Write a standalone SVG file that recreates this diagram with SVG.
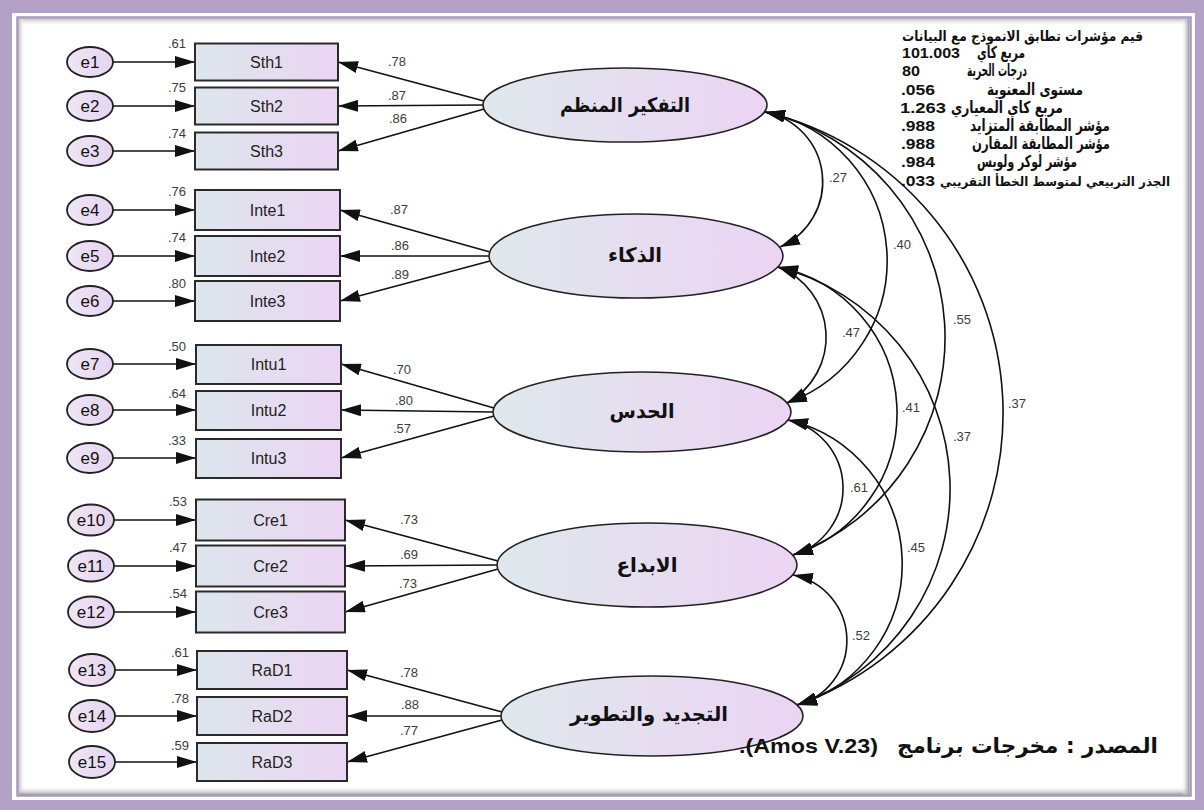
<svg xmlns="http://www.w3.org/2000/svg" width="1204" height="810" viewBox="0 0 1204 810">
  <defs>
    <linearGradient id="fillObs" x1="0" y1="0" x2="1" y2="0">
      <stop offset="0" stop-color="#dde6ec"/>
      <stop offset="1" stop-color="#ebd5f3"/>
    </linearGradient>
    <linearGradient id="fillLat" x1="0" y1="0" x2="1" y2="0">
      <stop offset="0" stop-color="#dfe8ec"/>
      <stop offset="1" stop-color="#ecd4f3"/>
    </linearGradient>
    <linearGradient id="fillErr" x1="0" y1="0" x2="1" y2="0">
      <stop offset="0" stop-color="#eee6f4"/>
      <stop offset="1" stop-color="#e6d4f1"/>
    </linearGradient>
    <linearGradient id="shTop" x1="0" y1="0" x2="0" y2="1">
      <stop offset="0" stop-color="#c2c2c2"/>
      <stop offset="1" stop-color="#ffffff" stop-opacity="0"/>
    </linearGradient>
    <linearGradient id="shLeft" x1="0" y1="0" x2="1" y2="0">
      <stop offset="0" stop-color="#c6c6c6"/>
      <stop offset="1" stop-color="#ffffff" stop-opacity="0"/>
    </linearGradient>
    <linearGradient id="shBottom" x1="0" y1="0" x2="0" y2="1">
      <stop offset="0" stop-color="#ffffff" stop-opacity="0"/>
      <stop offset="1" stop-color="#9a9a9a"/>
    </linearGradient>
    <linearGradient id="shRight" x1="0" y1="0" x2="1" y2="0">
      <stop offset="0" stop-color="#ffffff" stop-opacity="0"/>
      <stop offset="1" stop-color="#9e9e9e"/>
    </linearGradient>
    <marker id="ah" viewBox="0 0 20 12" refX="20" refY="6" markerWidth="20" markerHeight="12" markerUnits="userSpaceOnUse" orient="auto-start-reverse">
      <path d="M0,0 L20,6 L0,12 Z" fill="#111"/>
    </marker>
    <style>
      .obs { fill: url(#fillObs); stroke: #2a2a2a; stroke-width: 2; }
      .lat { fill: url(#fillLat); stroke: #222; stroke-width: 1.6; }
      .err { fill: url(#fillErr); stroke: #222; stroke-width: 1.8; }
      .obsTxt { font-family: "Liberation Sans", Arial, sans-serif; font-size: 16px; fill: #222; text-anchor: middle; }
      .errTxt { font-family: "Liberation Sans", Arial, sans-serif; font-size: 17px; fill: #111; text-anchor: middle; }
      .latTxt { font-family: "DejaVu Sans", "Liberation Sans", sans-serif; font-size: 20px; font-weight: bold; fill: #111; text-anchor: middle; }
      .num { font-family: "Liberation Sans", Arial, sans-serif; font-size: 13px; fill: #3c3c3c; }
      .fitNum { font-family: "Liberation Sans", Arial, sans-serif; font-size: 14px; font-weight: bold; fill: #111; }
      .fit { font-family: "DejaVu Sans", "Liberation Sans", sans-serif; font-size: 16.5px; font-weight: bold; fill: #111; text-anchor: end; }
      .fitLong { font-size: 14px; }
      .fitLonger { font-size: 12.5px; }
      .capAr { font-family: "DejaVu Sans", "Liberation Sans", sans-serif; font-size: 21px; font-weight: bold; fill: #111; }
      .capLat { font-family: "Liberation Sans", Arial, sans-serif; font-size: 21px; font-weight: bold; fill: #111; }
      .path { fill: none; stroke: #111; stroke-width: 1.6; marker-end: url(#ah); }
      .cov { fill: none; stroke: #111; stroke-width: 1.6; marker-start: url(#ah); marker-end: url(#ah); }
    </style>
  </defs>

  <!-- page frame -->
  <g id="frame">
    <rect x="0" y="0" width="1204" height="810" fill="#b3a1c8"/>
    <rect x="12" y="13" width="1183" height="787" fill="#ffffff"/>
    <rect x="17.5" y="17.5" width="1173" height="778" fill="#ffffff" stroke="#a798bb" stroke-width="2.5"/>
    <rect x="19" y="19" width="1170" height="7" fill="url(#shTop)"/>
    <rect x="19" y="19" width="6" height="775" fill="url(#shLeft)"/>
    <rect x="19" y="786" width="1170" height="9" fill="url(#shBottom)"/>
    <rect x="1181" y="19" width="8" height="776" fill="url(#shRight)"/>
  </g>

  <!-- connectors -->
  <g id="connectors">
    <!-- error terms to indicators -->
    <line class="path" x1="113" y1="62" x2="195" y2="62"/>
    <line class="path" x1="113" y1="106" x2="195" y2="106"/>
    <line class="path" x1="113" y1="151" x2="195" y2="151"/>
    <line class="path" x1="113" y1="210" x2="195" y2="210"/>
    <line class="path" x1="113" y1="256" x2="195" y2="256"/>
    <line class="path" x1="113" y1="301" x2="195" y2="301"/>
    <line class="path" x1="113" y1="364" x2="196" y2="364"/>
    <line class="path" x1="113" y1="410" x2="196" y2="410"/>
    <line class="path" x1="113" y1="458" x2="196" y2="458"/>
    <line class="path" x1="114" y1="520" x2="196" y2="520"/>
    <line class="path" x1="114" y1="566" x2="196" y2="566"/>
    <line class="path" x1="114" y1="612" x2="196" y2="612"/>
    <line class="path" x1="115" y1="670" x2="197" y2="670"/>
    <line class="path" x1="115" y1="716" x2="197" y2="716"/>
    <line class="path" x1="115" y1="762" x2="197" y2="762"/>

    <!-- loadings -->
    <line class="path" x1="484" y1="101" x2="338" y2="62"/>
    <line class="path" x1="483" y1="105" x2="338" y2="106"/>
    <line class="path" x1="484" y1="109" x2="338" y2="151"/>

    <line class="path" x1="490" y1="252" x2="340" y2="210"/>
    <line class="path" x1="489" y1="256" x2="340" y2="256"/>
    <line class="path" x1="490" y1="261" x2="340" y2="301"/>

    <line class="path" x1="494" y1="408" x2="341" y2="364"/>
    <line class="path" x1="493" y1="412" x2="341" y2="410"/>
    <line class="path" x1="494" y1="416" x2="341" y2="458"/>

    <line class="path" x1="498" y1="561" x2="345" y2="520"/>
    <line class="path" x1="497" y1="565" x2="345" y2="566"/>
    <line class="path" x1="498" y1="569" x2="345" y2="612"/>

    <line class="path" x1="502" y1="712" x2="347" y2="670"/>
    <line class="path" x1="501" y1="716" x2="347" y2="716"/>
    <line class="path" x1="502" y1="720" x2="347" y2="762"/>

    <!-- covariances between factors -->
    <path class="cov" d="M765,112 A71.1,71.1 0 0 1 780,247"/>
    <path class="cov" d="M765,112 A151.4,151.4 0 0 1 787,403"/>
    <path class="cov" d="M765,112 A231.4,231.4 0 0 1 793,555"/>
    <path class="cov" d="M765,112 A309.6,309.6 0 0 1 797,705"/>
    <path class="cov" d="M778,267 A75.1,75.1 0 0 1 787,403"/>
    <path class="cov" d="M778,267 A149,149 0 0 1 793,555"/>
    <path class="cov" d="M778,267 A229.1,229.1 0 0 1 797,705"/>
    <path class="cov" d="M788,420 A69.7,69.7 0 0 1 793,555"/>
    <path class="cov" d="M788,420 A147.5,147.5 0 0 1 797,705"/>
    <path class="cov" d="M793,575 A66.7,66.7 0 0 1 797,705"/>

    <!-- loading estimates -->
    <text class="num" x="388" y="66">.78</text>
    <text class="num" x="388" y="100">.87</text>
    <text class="num" x="389" y="123">.86</text>
    <text class="num" x="390" y="214">.87</text>
    <text class="num" x="391" y="250">.86</text>
    <text class="num" x="391" y="279">.89</text>
    <text class="num" x="393" y="374">.70</text>
    <text class="num" x="395" y="405">.80</text>
    <text class="num" x="393" y="433">.57</text>
    <text class="num" x="400" y="524">.73</text>
    <text class="num" x="400" y="559">.69</text>
    <text class="num" x="399" y="588">.73</text>
    <text class="num" x="400" y="677">.78</text>
    <text class="num" x="401" y="709">.88</text>
    <text class="num" x="400" y="735">.77</text>

    <!-- correlation estimates -->
    <text class="num" x="829" y="182">.27</text>
    <text class="num" x="893" y="249">.40</text>
    <text class="num" x="953" y="324">.55</text>
    <text class="num" x="1008" y="408">.37</text>
    <text class="num" x="842" y="337">.47</text>
    <text class="num" x="902" y="412">.41</text>
    <text class="num" x="953" y="441">.37</text>
    <text class="num" x="850" y="492">.61</text>
    <text class="num" x="907" y="552">.45</text>
    <text class="num" x="852" y="640">.52</text>
  </g>

  <!-- error terms -->
  <g id="e1"><ellipse class="err" cx="90" cy="62" rx="23" ry="15"/><text class="errTxt" x="90" y="68">e1</text></g>
  <g id="e2"><ellipse class="err" cx="90" cy="106" rx="23" ry="15"/><text class="errTxt" x="90" y="112">e2</text></g>
  <g id="e3"><ellipse class="err" cx="90" cy="151" rx="23" ry="15"/><text class="errTxt" x="90" y="157">e3</text></g>
  <g id="e4"><ellipse class="err" cx="90" cy="210" rx="23" ry="15"/><text class="errTxt" x="90" y="216">e4</text></g>
  <g id="e5"><ellipse class="err" cx="90" cy="256" rx="23" ry="15"/><text class="errTxt" x="90" y="262">e5</text></g>
  <g id="e6"><ellipse class="err" cx="90" cy="301" rx="23" ry="15"/><text class="errTxt" x="90" y="307">e6</text></g>
  <g id="e7"><ellipse class="err" cx="90" cy="364" rx="23" ry="15"/><text class="errTxt" x="90" y="370">e7</text></g>
  <g id="e8"><ellipse class="err" cx="90" cy="410" rx="23" ry="15"/><text class="errTxt" x="90" y="416">e8</text></g>
  <g id="e9"><ellipse class="err" cx="90" cy="458" rx="23" ry="15"/><text class="errTxt" x="90" y="464">e9</text></g>
  <g id="e10"><ellipse class="err" cx="91" cy="520" rx="23" ry="15.5"/><text class="errTxt" x="91" y="526">e10</text></g>
  <g id="e11"><ellipse class="err" cx="91" cy="566" rx="23" ry="15.5"/><text class="errTxt" x="91" y="572">e11</text></g>
  <g id="e12"><ellipse class="err" cx="91" cy="612" rx="23" ry="15.5"/><text class="errTxt" x="91" y="618">e12</text></g>
  <g id="e13"><ellipse class="err" cx="92" cy="670" rx="23" ry="16"/><text class="errTxt" x="92" y="676">e13</text></g>
  <g id="e14"><ellipse class="err" cx="92" cy="716" rx="23" ry="16"/><text class="errTxt" x="92" y="722">e14</text></g>
  <g id="e15"><ellipse class="err" cx="92" cy="762" rx="23" ry="16"/><text class="errTxt" x="92" y="768">e15</text></g>

  <!-- observed indicators with squared multiple correlations -->
  <g id="Sth1"><rect class="obs" x="195" y="43.5" width="143" height="37"/><text class="obsTxt" x="266.5" y="68">Sth1</text><text class="num" x="168" y="48">.61</text></g>
  <g id="Sth2"><rect class="obs" x="195" y="87.5" width="143" height="37"/><text class="obsTxt" x="266.5" y="112">Sth2</text><text class="num" x="168" y="92">.75</text></g>
  <g id="Sth3"><rect class="obs" x="195" y="132.5" width="143" height="37"/><text class="obsTxt" x="266.5" y="157">Sth3</text><text class="num" x="168" y="138">.74</text></g>

  <g id="Inte1"><rect class="obs" x="195" y="190" width="145" height="40"/><text class="obsTxt" x="267.5" y="216">Inte1</text><text class="num" x="168" y="196">.76</text></g>
  <g id="Inte2"><rect class="obs" x="195" y="236" width="145" height="40"/><text class="obsTxt" x="267.5" y="262">Inte2</text><text class="num" x="168" y="242">.74</text></g>
  <g id="Inte3"><rect class="obs" x="195" y="281" width="145" height="40"/><text class="obsTxt" x="267.5" y="307">Inte3</text><text class="num" x="168" y="288">.80</text></g>

  <g id="Intu1"><rect class="obs" x="196" y="345" width="145" height="39"/><text class="obsTxt" x="268.5" y="370">Intu1</text><text class="num" x="168" y="351">.50</text></g>
  <g id="Intu2"><rect class="obs" x="196" y="391" width="145" height="39"/><text class="obsTxt" x="268.5" y="416">Intu2</text><text class="num" x="168" y="398">.64</text></g>
  <g id="Intu3"><rect class="obs" x="196" y="439" width="145" height="39"/><text class="obsTxt" x="268.5" y="464">Intu3</text><text class="num" x="168" y="445">.33</text></g>

  <g id="Cre1"><rect class="obs" x="196" y="499.5" width="149" height="41"/><text class="obsTxt" x="270.5" y="526">Cre1</text><text class="num" x="169" y="506">.53</text></g>
  <g id="Cre2"><rect class="obs" x="196" y="545.5" width="149" height="41"/><text class="obsTxt" x="270.5" y="572">Cre2</text><text class="num" x="169" y="552">.47</text></g>
  <g id="Cre3"><rect class="obs" x="196" y="591.5" width="149" height="41"/><text class="obsTxt" x="270.5" y="618">Cre3</text><text class="num" x="169" y="598">.54</text></g>

  <g id="RaD1"><rect class="obs" x="197" y="651" width="150" height="38"/><text class="obsTxt" x="272" y="676">RaD1</text><text class="num" x="171" y="657">.61</text></g>
  <g id="RaD2"><rect class="obs" x="197" y="697" width="150" height="38"/><text class="obsTxt" x="272" y="722">RaD2</text><text class="num" x="171" y="703">.78</text></g>
  <g id="RaD3"><rect class="obs" x="197" y="743" width="150" height="38"/><text class="obsTxt" x="272" y="768">RaD3</text><text class="num" x="171" y="750">.59</text></g>

  <!-- latent factors -->
  <g id="F1"><ellipse class="lat" cx="625" cy="105" rx="142" ry="37"/><text class="latTxt" x="625" y="112" textLength="130" lengthAdjust="spacingAndGlyphs">التفكير المنظم</text></g>
  <g id="F2"><ellipse class="lat" cx="636" cy="256" rx="147" ry="42"/><text class="latTxt" x="635" y="262" textLength="54" lengthAdjust="spacingAndGlyphs">الذكاء</text></g>
  <g id="F3"><ellipse class="lat" cx="642" cy="412" rx="149" ry="40"/><text class="latTxt" x="642" y="418" textLength="65" lengthAdjust="spacingAndGlyphs">الحدس</text></g>
  <g id="F4"><ellipse class="lat" cx="647" cy="565" rx="150" ry="42"/><text class="latTxt" x="647" y="572" textLength="61" lengthAdjust="spacingAndGlyphs">الابداع</text></g>
  <g id="F5"><ellipse class="lat" cx="652" cy="716" rx="151" ry="40"/><text class="latTxt" x="649" y="721" textLength="158" lengthAdjust="spacingAndGlyphs">التجديد والتطوير</text></g>

  <!-- goodness-of-fit summary -->
  <g id="fit-indices">
    <text class="fit fitLong" x="1143" y="41" textLength="241" lengthAdjust="spacingAndGlyphs">قيم مؤشرات تطابق الانموذج مع البيانات</text>
    <text class="fitNum" x="902" y="58" textLength="58" lengthAdjust="spacingAndGlyphs">101.003</text>
    <text class="fit" x="1025" y="58" textLength="48" lengthAdjust="spacingAndGlyphs">مربع كاي</text>
    <text class="fitNum" x="902" y="76" textLength="18" lengthAdjust="spacingAndGlyphs">80</text>
    <text class="fit" x="1027" y="76" textLength="60" lengthAdjust="spacingAndGlyphs">درجات الحرية</text>
    <text class="fitNum" x="901" y="95" textLength="34" lengthAdjust="spacingAndGlyphs">.056</text>
    <text class="fit" x="1083" y="95" textLength="96" lengthAdjust="spacingAndGlyphs">مستوى المعنوية</text>
    <text class="fitNum" x="900" y="113" textLength="46" lengthAdjust="spacingAndGlyphs">1.263</text>
    <text class="fit" x="1063" y="113" textLength="112" lengthAdjust="spacingAndGlyphs">مربع كاي المعياري</text>
    <text class="fitNum" x="901" y="131" textLength="34" lengthAdjust="spacingAndGlyphs">.988</text>
    <text class="fit" x="1110" y="131" textLength="140" lengthAdjust="spacingAndGlyphs">مؤشر المطابقة المتزايد</text>
    <text class="fitNum" x="901" y="149" textLength="34" lengthAdjust="spacingAndGlyphs">.988</text>
    <text class="fit" x="1110" y="149" textLength="138" lengthAdjust="spacingAndGlyphs">مؤشر المطابقة المقارن</text>
    <text class="fitNum" x="901" y="167" textLength="34" lengthAdjust="spacingAndGlyphs">.984</text>
    <text class="fit" x="1077" y="167" textLength="100" lengthAdjust="spacingAndGlyphs">مؤشر لوكر ولويس</text>
    <text class="fitNum" x="901" y="186" textLength="34" lengthAdjust="spacingAndGlyphs">.033</text>
    <text class="fit fitLonger" x="1170" y="186" textLength="230" lengthAdjust="spacingAndGlyphs">الجذر التربيعي لمتوسط الخطأ التقريبي</text>
  </g>

  <!-- source note -->
  <g id="source">
    <text class="capLat" x="739" y="753" textLength="139" lengthAdjust="spacingAndGlyphs">.(Amos V.23)</text>
    <text class="capAr" x="897" y="753" textLength="261" lengthAdjust="spacingAndGlyphs">المصدر : مخرجات برنامج</text>
  </g>
</svg>
